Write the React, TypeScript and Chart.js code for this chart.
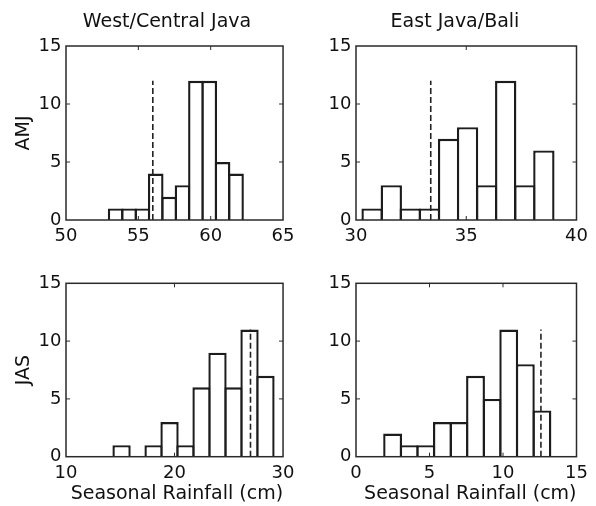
import React, { useEffect, useRef } from "react";
import { Chart, registerables } from "chart.js";

Chart.register(...registerables);

// ---------- data ----------
const regionTitles = ["West/Central Java", "East Java/Bali"];
const seasonLabels = ["AMJ", "JAS"];
const xAxisLabel = "Seasonal Rainfall (cm)";

// AMJ, West/Central Java
const amjWestCenters = [53.43, 54.36, 55.28, 56.2, 57.13, 58.05, 58.98, 59.9, 60.82, 61.75];
const amjWestCounts = [1, 1, 1, 4, 2, 3, 12, 12, 5, 4];
const amjWestMarker = [56.0, 12];
const amjWestXRange = [50, 65, 5];

// AMJ, East Java/Bali
const amjEastCenters = [30.73, 31.6, 32.46, 33.33, 34.2, 35.06, 35.93, 36.79, 37.66, 38.52];
const amjEastCounts = [1, 3, 1, 1, 7, 8, 3, 12, 3, 6];
const amjEastMarker = [33.39, 12];
const amjEastXRange = [30, 40, 5];

// JAS, West/Central Java
const jasWestCenters = [15.12, 16.59, 18.07, 19.54, 21.01, 22.49, 23.96, 25.44, 26.91, 28.38];
const jasWestCounts = [1, 0, 1, 3, 1, 6, 9, 6, 11, 7];
const jasWestMarker = [27.0, 11];
const jasWestXRange = [10, 30, 10];

// JAS, East Java/Bali
const jasEastCenters = [2.49, 3.62, 4.75, 5.88, 7.01, 8.13, 9.26, 10.39, 11.52, 12.65];
const jasEastCounts = [2, 1, 1, 3, 3, 7, 5, 11, 8, 4];
const jasEastMarker = [12.58, 11];
const jasEastXRange = [0, 15, 5];

const countAxis = [0, 15, 5];

// ---------- styling ----------
const FONT = "'DejaVu Sans', sans-serif";
const INK = "#1c1c1c";

const framePlugin = {
  id: "matlabFrame",
  afterDatasetsDraw(chart: any, _args: any, opts: any) {
    const { ctx, chartArea: a, scales } = chart;
    ctx.save();
    ctx.strokeStyle = "#2a2a2a";
    ctx.lineWidth = 1.5;
    ctx.strokeRect(a.left, a.top, a.right - a.left, a.bottom - a.top);
    ctx.lineWidth = 1;
    const tl = 4;
    ctx.beginPath();
    scales.x.ticks.forEach((_t: any, i: number) => {
      const px = scales.x.getPixelForTick(i);
      if (px <= a.left + 1 || px >= a.right - 1) return;
      ctx.moveTo(px, a.bottom);
      ctx.lineTo(px, a.bottom - tl);
      ctx.moveTo(px, a.top);
      ctx.lineTo(px, a.top + tl);
    });
    scales.y.ticks.forEach((_t: any, i: number) => {
      const py = scales.y.getPixelForTick(i);
      if (py <= a.top + 1 || py >= a.bottom - 1) return;
      ctx.moveTo(a.left, py);
      ctx.lineTo(a.left + tl, py);
      ctx.moveTo(a.right, py);
      ctx.lineTo(a.right - tl, py);
    });
    ctx.stroke();
    if (opts && opts.text) {
      ctx.fillStyle = "#111";
      ctx.font = `19px ${FONT}`;
      ctx.textAlign = "center";
      ctx.textBaseline = "middle";
      ctx.fillText(opts.text, opts.x, opts.y);
    }
    ctx.restore();
  },
};

type Spec = {
  left: number;
  top: number;
  width: number;
  height: number;
  centers: number[];
  counts: number[];
  marker: number[];
  xRange: number[];
  yTitle?: string;
  xTitle?: string;
  colTitle?: string;
  colTitleX?: number;
  yWidth: number;
  xHeight: number;
  pad: { left: number; right: number; top: number; bottom: number };
  barPct: number;
};

function Panel({ spec }: { spec: Spec }) {
  const ref = useRef<HTMLCanvasElement | null>(null);
  useEffect(() => {
    if (!ref.current) return;
    const s = spec;
    const chart = new Chart(ref.current, {
      type: "bar",
      data: {
        datasets: [
          {
            type: "line",
            data: [
              { x: s.marker[0], y: 0 },
              { x: s.marker[0], y: s.marker[1] },
            ],
            borderColor: "#222",
            borderWidth: 1.6,
            borderDash: [6, 3],
            pointRadius: 0,
            fill: false,
            order: 0,
          } as any,
          {
            type: "bar",
            data: s.centers.map((c, i) => ({ x: c, y: s.counts[i] })),
            backgroundColor: "#ffffff",
            borderColor: INK,
            borderWidth: 2.4,
            barPercentage: s.barPct,
            categoryPercentage: 1,
            order: 1,
          } as any,
        ],
      },
      options: {
        responsive: false,
        maintainAspectRatio: false,
        animation: false,
        layout: { padding: s.pad },
        plugins: {
          legend: { display: false },
          tooltip: { enabled: false },
          matlabFrame: s.colTitle ? { text: s.colTitle, x: s.colTitleX, y: 21.7 } : {},
        } as any,
        scales: {
          x: {
            type: "linear",
            min: s.xRange[0],
            max: s.xRange[1],
            offset: false,
            grid: { display: false, drawTicks: false },
            border: { display: false },
            ticks: {
              stepSize: s.xRange[2],
              autoSkip: false,
              maxRotation: 0,
              padding: 5.5,
              color: "#111",
              font: { family: FONT, size: 18 },
            },
            title: s.xTitle
              ? {
                  display: true,
                  text: s.xTitle,
                  align: "end",
                  color: "#111",
                  font: { family: FONT, size: 19 },
                  padding: { top: 0, bottom: 0.6 },
                }
              : { display: false },
            afterFit: (sc: any) => {
              sc.height = s.xHeight;
            },
          },
          y: {
            type: "linear",
            min: countAxis[0],
            max: countAxis[1],
            grid: { display: false, drawTicks: false },
            border: { display: false },
            ticks: {
              stepSize: countAxis[2],
              autoSkip: false,
              padding: 4.5,
              color: "#111",
              font: { family: FONT, size: 18 },
            },
            title: s.yTitle
              ? {
                  display: true,
                  text: s.yTitle,
                  color: "#111",
                  font: { family: FONT, size: 19 },
                  padding: { top: 12.8, bottom: 0 },
                }
              : { display: false },
            afterFit: (sc: any) => {
              sc.width = s.yWidth;
            },
          },
        } as any,
      },
      plugins: [framePlugin as any],
    });
    return () => chart.destroy();
  }, [spec]);
  return (
    <canvas
      ref={ref}
      width={spec.width}
      height={spec.height}
      style={{
        position: "absolute",
        left: spec.left,
        top: spec.top,
        width: spec.width,
        height: spec.height,
      }}
    />
  );
}

const specs: Spec[] = [
  {
    left: 0, top: 0, width: 300, height: 253,
    centers: amjWestCenters, counts: amjWestCounts, marker: amjWestMarker, xRange: amjWestXRange,
    yTitle: seasonLabels[0], colTitle: regionTitles[0], colTitleX: 167,
    yWidth: 66, xHeight: 33, pad: { left: 0, right: 12, top: 46, bottom: 0 }, barPct: 1.175,
  },
  {
    left: 322, top: 0, width: 274, height: 253,
    centers: amjEastCenters, counts: amjEastCounts, marker: amjEastMarker, xRange: amjEastXRange,
    colTitle: regionTitles[1], colTitleX: 133,
    yWidth: 34, xHeight: 33, pad: { left: 0, right: 19.5, top: 46, bottom: 0 }, barPct: 1.126,
  },
  {
    left: 0, top: 253, width: 300, height: 253,
    centers: jasWestCenters, counts: jasWestCounts, marker: jasWestMarker, xRange: jasWestXRange,
    yTitle: seasonLabels[1], xTitle: xAxisLabel,
    yWidth: 66, xHeight: 49.3, pad: { left: 0, right: 12, top: 30.3, bottom: 0 }, barPct: 1.148,
  },
  {
    left: 322, top: 253, width: 274, height: 253,
    centers: jasEastCenters, counts: jasEastCounts, marker: jasEastMarker, xRange: jasEastXRange,
    xTitle: xAxisLabel,
    yWidth: 34, xHeight: 49.3, pad: { left: 0, right: 19.5, top: 30.3, bottom: 0 }, barPct: 1.145,
  },
];

export default function App() {
  return (
    <div style={{ position: "absolute", left: 0, top: 0, width: 596, height: 506, background: "#fff" }}>
      {specs.map((s, i) => (
        <Panel key={i} spec={s} />
      ))}
    </div>
  );
}
